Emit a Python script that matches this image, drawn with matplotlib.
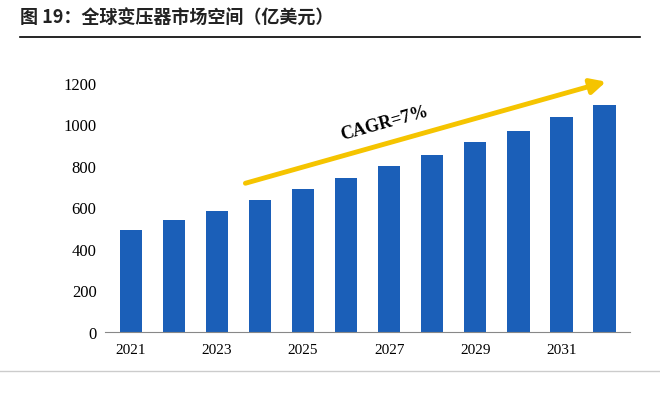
import matplotlib
matplotlib.use("Agg")
import matplotlib.pyplot as plt
from matplotlib.lines import Line2D

years = [2021,2022,2023,2024,2025,2026,2027,2028,2029,2030,2031,2032]
values = [490,540,585,635,690,740,800,855,915,970,1035,1095]
tick_years = [2021,2023,2025,2027,2029,2031]
title = "图 19：全球变压器市场空间（亿美元）"

fig = plt.figure(figsize=(6.6,4.02), dpi=100)
fig.text(0.03, 0.955, title, fontsize=13, fontweight='bold',
         family=['Noto Sans CJK SC','DejaVu Sans'], va='center', color='#222222')
fig.add_artist(Line2D([0.03,0.97],[0.905,0.905], color='black', lw=1.2))
fig.add_artist(Line2D([0.0,1.0],[0.075,0.075], color='#cccccc', lw=1))

ax = fig.add_axes([0.159, 0.172, 0.796, 0.619])
ax.bar(years, values, width=0.52, color='#1b5fb8')
ax.set_xlim(2020.4, 2032.6)
ax.set_ylim(0, 1200)
ax.set_yticks(range(0,1201,200))
ax.set_xticks(tick_years)
for s in ['top','right','left']:
    ax.spines[s].set_visible(False)
ax.spines['bottom'].set_color('#888888')
ax.tick_params(axis='y', length=0, labelsize=12, pad=6)
ax.tick_params(axis='x', length=0, labelsize=11, pad=8)
for l in ax.get_xticklabels()+ax.get_yticklabels():
    l.set_family('Liberation Serif')
ax.annotate('', xy=(2032.1, 1210), xytext=(2023.6, 713), annotation_clip=False,
            arrowprops=dict(arrowstyle='-|>,head_length=0.9,head_width=0.45',
                            color='#f5c400', lw=3.5))
ax.text(2026.9, 1010, 'CAGR=7%', rotation=15.5, fontsize=13, fontweight='bold',
        family='Liberation Serif', ha='center', va='center')
fig.savefig('out.png', dpi=100)
